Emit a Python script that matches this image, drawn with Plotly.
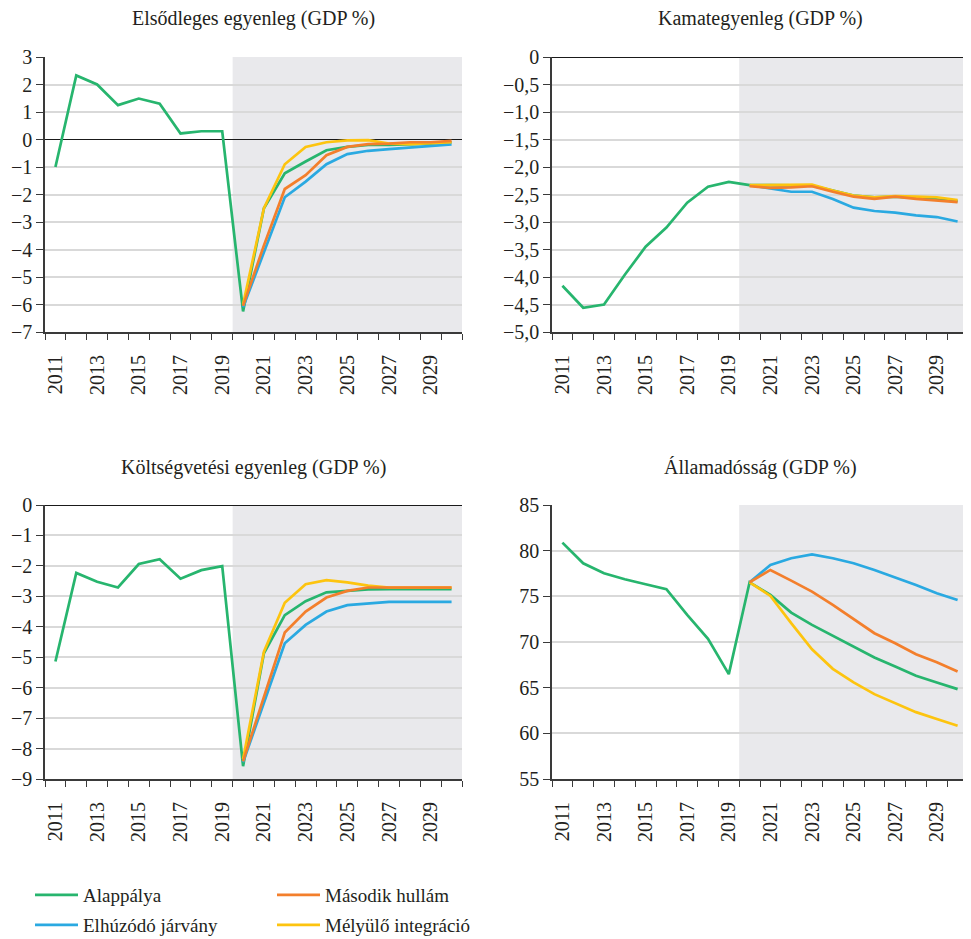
import plotly.graph_objects as go

years = list(range(2011, 2031))
proj_years = list(range(2020, 2031))
tick_years = list(range(2011, 2031, 2))
tick_labels = [str(y) for y in tick_years]

# Elsődleges egyenleg (GDP %)
prim_base = [-1.0, 2.33, 2.0, 1.25, 1.49, 1.3, 0.22, 0.3, 0.3, -6.25,
             -2.5, -1.23, -0.8, -0.39, -0.27, -0.2, -0.2, -0.18, -0.15, -0.1]
prim_long = [-6.1, -4.1, -2.1, -1.53, -0.9, -0.53, -0.41, -0.35, -0.3, -0.25, -0.18]
prim_second = [-6.05, -3.85, -1.8, -1.3, -0.57, -0.27, -0.17, -0.15, -0.1, -0.1, -0.05]
prim_integr = [-6.0, -2.5, -0.9, -0.27, -0.1, -0.03, -0.02, -0.15, -0.17, -0.14, -0.1]

# Kamategyenleg (GDP %)
int_base = [-4.16, -4.56, -4.5, -3.96, -3.45, -3.1, -2.65, -2.36, -2.27, -2.33,
            -2.33, -2.34, -2.34, -2.43, -2.52, -2.55, -2.54, -2.56, -2.59, -2.62]
int_long = [-2.33, -2.39, -2.45, -2.45, -2.58, -2.74, -2.80, -2.83, -2.88, -2.91, -2.99]
int_second = [-2.35, -2.38, -2.37, -2.35, -2.45, -2.54, -2.58, -2.54, -2.58, -2.61, -2.64]
int_integr = [-2.33, -2.33, -2.33, -2.32, -2.43, -2.52, -2.55, -2.53, -2.54, -2.55, -2.6]

# Költségvetési egyenleg (GDP %)
bud_base = [-5.14, -2.23, -2.52, -2.71, -1.94, -1.78, -2.42, -2.14, -2.01, -8.58,
            -4.87, -3.62, -3.16, -2.87, -2.82, -2.77, -2.76, -2.76, -2.76, -2.76]
bud_long = [-8.45, -6.51, -4.54, -3.94, -3.5, -3.29, -3.23, -3.18, -3.18, -3.18, -3.18]
bud_second = [-8.42, -6.29, -4.19, -3.5, -3.04, -2.82, -2.71, -2.71, -2.71, -2.71, -2.71]
bud_integr = [-8.35, -4.82, -3.21, -2.6, -2.47, -2.54, -2.65, -2.71, -2.71, -2.71, -2.71]

# Államadósság (GDP %)
debt_base = [80.88, 78.62, 77.53, 76.87, 76.32, 75.78, 72.97, 70.34, 66.48, 76.54,
             75.16, 73.22, 71.88, 70.67, 69.51, 68.3, 67.32, 66.3, 65.57, 64.84]
debt_long = [76.54, 78.44, 79.17, 79.6, 79.17, 78.62, 77.89, 77.09, 76.25, 75.34, 74.6]
debt_second = [76.54, 77.89, 76.72, 75.52, 74.06, 72.5, 70.96, 69.87, 68.67, 67.79, 66.77]
debt_integr = [76.54, 75.05, 72.06, 69.21, 67.06, 65.57, 64.29, 63.3, 62.32, 61.56, 60.83]

titles = ["Elsődleges egyenleg (GDP %)", "Kamategyenleg (GDP %)",
          "Költségvetési egyenleg (GDP %)", "Államadósság (GDP %)"]

names = ["Alappálya", "Második hullám", "Elhúzódó járvány", "Mélyülő integráció"]
colors = {"Alappálya": "#27b56e", "Második hullám": "#f37f2c",
          "Elhúzódó járvány": "#2aa9e1", "Mélyülő integráció": "#fdc40f"}

FONT = "Liberation Serif, Times New Roman, DejaVu Serif, serif"
OFF = 8                       # page body margin
W, H = 971 - OFF, 939 - OFF   # figure size inside the window
TXT = "#231f20"
AX = "#3a3a3a"

def fx(x):
    return (x - OFF) / W

def fy(y):
    return 1 - (y - OFF) / H

panels = [
    dict(base=prim_base, long=prim_long, second=prim_second, integr=prim_integr,
         yrange=[-7, 3], tv=list(range(-7, 4)), dec=0, zero=True),
    dict(base=int_base, long=int_long, second=int_second, integr=int_integr,
         yrange=[-5, 0], tv=[-5 + 0.5 * i for i in range(11)], dec=1, zero=True),
    dict(base=bud_base, long=bud_long, second=bud_second, integr=bud_integr,
         yrange=[-9, 0], tv=list(range(-9, 1)), dec=0, zero=True),
    dict(base=debt_base, long=debt_long, second=debt_second, integr=debt_integr,
         yrange=[55, 85], tv=list(range(55, 90, 5)), dec=0, zero=False),
]

def fmt(v, dec):
    if abs(v) < 1e-9:
        return "0"
    s = f"{abs(v):.{dec}f}".replace(".", ",")
    return ("−" if v < 0 else "") + s

# window-pixel geometry of plot areas (left, right, top, bottom)
px = [(45, 462, 57, 332), (552, 968, 57, 332), (45, 462, 505, 779), (552, 968, 505, 779)]
title_y = [18, 18, 467, 467]

fig = go.Figure()
legend_ids = {"Alappálya": "legend", "Második hullám": "legend2",
              "Elhúzódó járvány": "legend3", "Mélyülő integráció": "legend4"}

layout = dict(width=W, height=H, margin=dict(l=0, r=0, t=0, b=0, autoexpand=False),
              paper_bgcolor="white", plot_bgcolor="white",
              font=dict(family=FONT, size=20, color=TXT),
              shapes=[], annotations=[])

for i, p in enumerate(panels):
    k = "" if i == 0 else str(i + 1)
    xa, ya = "x" + k, "y" + k
    lk = str(i + 5)
    l, r, t, b = px[i]
    series = [("Alappálya", years, p["base"]),
              ("Elhúzódó járvány", proj_years, p["long"]),
              ("Mélyülő integráció", proj_years, p["integr"]),
              ("Második hullám", proj_years, p["second"])]
    for name, xs, ys in series:
        fig.add_trace(go.Scatter(x=xs, y=ys, mode="lines", name=name,
                                 line=dict(color=colors[name], width=2.7),
                                 xaxis=xa, yaxis=ya, showlegend=(i == 0),
                                 legend=legend_ids[name], hoverinfo="skip"))
    # axis carrying the boundary tick marks
    layout["xaxis" + k] = dict(
        domain=[fx(l), fx(r)], anchor=ya, range=[2010.5, 2030.5],
        tickmode="array", tickvals=[y + 0.5 for y in range(2010, 2031)],
        showticklabels=False, ticks="outside", ticklen=6, tickwidth=1.4,
        tickcolor=AX, showgrid=False, zeroline=False,
        showline=True, linecolor=AX, linewidth=1.6, automargin=False,
        fixedrange=True)
    # overlaid axis carrying the year labels
    layout["xaxis" + lk] = dict(
        overlaying=xa, anchor=ya, side="bottom", range=[2010.5, 2030.5],
        tickmode="array", tickvals=tick_years, ticktext=tick_labels,
        ticks="outside", ticklen=14, tickcolor="rgba(0,0,0,0)", tickangle=-90,
        showgrid=False, zeroline=False, showline=False, automargin=False,
        tickfont=dict(family=FONT, size=20, color=TXT), fixedrange=True)
    layout["yaxis" + k] = dict(
        domain=[fy(b), fy(t)], anchor=xa, range=p["yrange"],
        tickmode="array", tickvals=p["tv"], ticktext=[fmt(v, p["dec"]) for v in p["tv"]],
        ticks="outside", ticklen=7, tickwidth=1.4, tickcolor=AX,
        showgrid=True, gridcolor="#d9d9d9", gridwidth=2,
        zeroline=p["zero"], zerolinecolor="#1a1a1a", zerolinewidth=1.4,
        showline=True, linecolor=AX, linewidth=1.6, automargin=False,
        tickfont=dict(family=FONT, size=20, color=TXT), fixedrange=True)
    # invisible trace so the label axis is drawn
    fig.add_trace(go.Scatter(x=[2011], y=[p["yrange"][0]], mode="markers",
                             marker=dict(opacity=0), xaxis="x" + lk, yaxis=ya,
                             showlegend=False, hoverinfo="skip"))
    layout["shapes"].append(dict(type="rect", xref=xa, yref=ya + " domain",
                                 x0=2019.5, x1=2030.5, y0=0, y1=1,
                                 fillcolor="#e9e9ec", line=dict(width=0),
                                 layer="below"))
    layout["annotations"].append(dict(text=titles[i], xref="paper", yref="paper",
                                      x=fx((l + r) / 2), y=fy(title_y[i]),
                                      xanchor="center", yanchor="middle",
                                      showarrow=False,
                                      font=dict(family=FONT, size=20, color=TXT)))

leg_pos = {"legend": (30, 895), "legend2": (272, 895),
           "legend3": (30, 925), "legend4": (272, 925)}
for lid, (lx, ly) in leg_pos.items():
    layout[lid] = dict(x=fx(lx), y=fy(ly), xanchor="left", yanchor="middle",
                       bgcolor="rgba(0,0,0,0)", borderwidth=0, itemwidth=43,
                       font=dict(family=FONT, size=19, color=TXT),
                       itemclick=False, itemdoubleclick=False)

fig.update_layout(**layout)
fig.write_html("out.html")
